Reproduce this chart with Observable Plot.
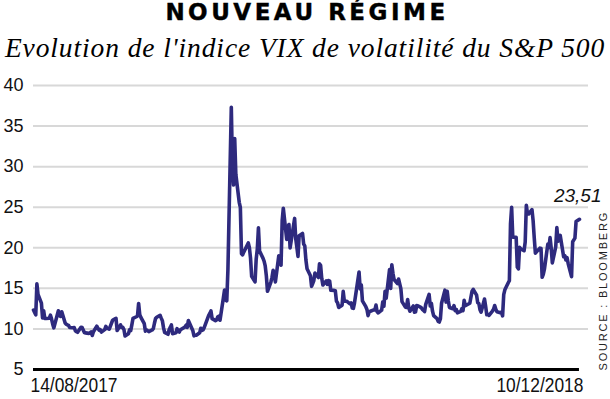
<!DOCTYPE html>
<html>
<head>
<meta charset="utf-8">
<script src="https://cdn.jsdelivr.net/npm/d3@7"></script>
<script src="https://cdn.jsdelivr.net/npm/@observablehq/plot@0.6"></script>
<style>
  html, body { margin: 0; padding: 0; background: #fff; }
  #wrap { position: relative; width: 610px; height: 399px; overflow: hidden; }
  #title { position: absolute; left: 2px; top: 1px; width: 610px; text-align: center;
    font-family: "DejaVu Sans", "Liberation Sans", Arial, sans-serif; font-weight: bold; font-size: 23px; line-height: 23px;
    letter-spacing: 3.5px; color: #000; -webkit-text-stroke: 0.4px #000; white-space: nowrap; }
  #subtitle { position: absolute; left: 0; top: 34px; width: 610px; text-align: center;
    font-family: "Liberation Serif", "Times New Roman", serif; font-style: italic; font-size: 27.5px; line-height: 27px;
    letter-spacing: 0.9px; color: #000; white-space: nowrap; }
  #chart { position: absolute; left: 0; top: 70px; }
</style>
</head>
<body>
<div id="wrap">
  <div id="title">NOUVEAU RÉGIME</div>
  <div id="subtitle">Evolution de l'indice VIX de volatilité du S&amp;P 500</div>
  <div id="chart"></div>
</div>
<script>
// Daily closes of the VIX index
const dates2017 = [
"2017-08-14","2017-08-15","2017-08-16","2017-08-17","2017-08-18","2017-08-21","2017-08-22","2017-08-23","2017-08-24","2017-08-25",
"2017-08-28","2017-08-29","2017-08-30","2017-08-31","2017-09-01","2017-09-05","2017-09-06","2017-09-07","2017-09-08","2017-09-11",
"2017-09-12","2017-09-13","2017-09-14","2017-09-15","2017-09-18","2017-09-19","2017-09-20","2017-09-21","2017-09-22","2017-09-25",
"2017-09-26","2017-09-27","2017-09-28","2017-09-29","2017-10-02","2017-10-03","2017-10-04","2017-10-05","2017-10-06","2017-10-09",
"2017-10-10","2017-10-11","2017-10-12","2017-10-13","2017-10-16","2017-10-17","2017-10-18","2017-10-19","2017-10-20","2017-10-23",
"2017-10-24","2017-10-25","2017-10-26","2017-10-27","2017-10-30","2017-10-31","2017-11-01","2017-11-02","2017-11-03","2017-11-06",
"2017-11-07","2017-11-08","2017-11-09","2017-11-10","2017-11-13","2017-11-14","2017-11-15","2017-11-16","2017-11-17","2017-11-20",
"2017-11-21","2017-11-22","2017-11-24","2017-11-27","2017-11-28","2017-11-29","2017-11-30","2017-12-01","2017-12-04","2017-12-05",
"2017-12-06","2017-12-07","2017-12-08","2017-12-11","2017-12-12","2017-12-13","2017-12-14","2017-12-15","2017-12-18","2017-12-19",
"2017-12-20","2017-12-21","2017-12-22","2017-12-26","2017-12-27","2017-12-28","2017-12-29"];
const vix2017 = [
12.33,12.04,11.74,15.55,14.26,13.19,11.35,12.25,11.28,11.28,
11.32,11.70,11.22,10.59,10.13,12.23,11.63,11.55,12.12,10.73,
10.58,10.50,10.44,10.17,10.15,10.18,9.78,9.67,9.59,10.21,
10.17,9.87,9.55,9.51,9.45,9.51,9.63,9.19,9.65,10.33,
10.08,9.85,9.91,9.61,9.91,10.31,10.06,10.05,9.97,11.07,
11.16,11.23,11.30,9.80,10.50,10.18,10.20,9.93,9.14,9.40,
9.89,9.78,10.50,11.29,11.50,11.59,13.13,11.76,11.43,10.65,
9.73,9.88,9.67,9.87,10.03,10.70,11.28,11.43,11.68,11.33,
11.02,10.16,9.58,9.34,9.92,10.18,10.49,9.42,9.53,10.03,
9.72,9.62,9.90,10.25,10.47,10.18,11.04];

const datesH1 = [
"2018-01-02","2018-01-03","2018-01-04","2018-01-05","2018-01-08","2018-01-09","2018-01-10","2018-01-11","2018-01-12","2018-01-16",
"2018-01-17","2018-01-18","2018-01-19","2018-01-22","2018-01-23","2018-01-24","2018-01-25","2018-01-26","2018-01-29","2018-01-30",
"2018-01-31","2018-02-01","2018-02-02","2018-02-05","2018-02-06","2018-02-07","2018-02-08","2018-02-09","2018-02-12","2018-02-13",
"2018-02-14","2018-02-15","2018-02-16","2018-02-20","2018-02-21","2018-02-22","2018-02-23","2018-02-26","2018-02-27","2018-02-28",
"2018-03-01","2018-03-02","2018-03-05","2018-03-06","2018-03-07","2018-03-08","2018-03-09","2018-03-12","2018-03-13","2018-03-14",
"2018-03-15","2018-03-16","2018-03-19","2018-03-20","2018-03-21","2018-03-22","2018-03-23","2018-03-26","2018-03-27","2018-03-28",
"2018-03-29","2018-04-02","2018-04-03","2018-04-04","2018-04-05","2018-04-06","2018-04-09","2018-04-10","2018-04-11","2018-04-12",
"2018-04-13","2018-04-16","2018-04-17","2018-04-18","2018-04-19","2018-04-20","2018-04-23","2018-04-24","2018-04-25","2018-04-26",
"2018-04-27","2018-04-30","2018-05-01","2018-05-02","2018-05-03","2018-05-04","2018-05-07","2018-05-08","2018-05-09","2018-05-10",
"2018-05-11","2018-05-14","2018-05-15","2018-05-16","2018-05-17","2018-05-18","2018-05-21","2018-05-22","2018-05-23","2018-05-24",
"2018-05-25","2018-05-29","2018-05-30","2018-05-31","2018-06-01","2018-06-04","2018-06-05","2018-06-06","2018-06-07","2018-06-08",
"2018-06-11","2018-06-12","2018-06-13","2018-06-14","2018-06-15","2018-06-18","2018-06-19","2018-06-20","2018-06-21","2018-06-22",
"2018-06-25","2018-06-26","2018-06-27","2018-06-28","2018-06-29"];
const vixH1 = [
9.77,9.15,9.22,9.22,9.52,10.08,9.82,9.88,10.16,11.66,
11.91,12.22,11.27,11.03,11.10,11.47,11.58,11.08,13.84,14.79,
13.54,13.47,17.31,37.32,29.98,27.73,33.46,29.06,25.61,24.97,
19.26,19.13,19.46,20.60,20.02,18.72,16.49,15.80,18.59,19.85,
22.47,19.59,18.73,18.36,17.76,16.54,14.64,15.78,16.35,17.23,
16.59,15.80,19.02,18.20,17.86,23.34,24.87,21.03,22.50,22.87,
19.97,23.62,21.10,20.06,18.94,21.49,21.77,20.47,20.24,18.49,
17.41,16.56,15.25,15.60,15.96,16.88,16.34,18.02,17.84,16.24,
15.41,15.93,15.49,15.97,15.90,14.77,14.75,14.71,13.42,13.23,
12.65,12.93,14.63,13.42,13.43,13.42,13.08,13.22,12.58,12.53,
13.22,17.02,14.94,15.43,13.46,12.74,12.40,11.64,12.13,12.18,
12.35,12.34,12.94,12.12,11.98,12.31,13.35,12.79,14.64,13.77,
17.33,14.99,17.91,16.85,16.09];

const datesH2 = [
"2018-07-02","2018-07-03","2018-07-05","2018-07-06","2018-07-09","2018-07-10","2018-07-11","2018-07-12","2018-07-13","2018-07-16",
"2018-07-17","2018-07-18","2018-07-19","2018-07-20","2018-07-23","2018-07-24","2018-07-25","2018-07-26","2018-07-27","2018-07-30",
"2018-07-31","2018-08-01","2018-08-02","2018-08-03","2018-08-06","2018-08-07","2018-08-08","2018-08-09","2018-08-10","2018-08-13",
"2018-08-14","2018-08-15","2018-08-16","2018-08-17","2018-08-20","2018-08-21","2018-08-22","2018-08-23","2018-08-24","2018-08-27",
"2018-08-28","2018-08-29","2018-08-30","2018-08-31","2018-09-04","2018-09-05","2018-09-06","2018-09-07","2018-09-10","2018-09-11",
"2018-09-12","2018-09-13","2018-09-14","2018-09-17","2018-09-18","2018-09-19","2018-09-20","2018-09-21","2018-09-24","2018-09-25",
"2018-09-26","2018-09-27","2018-09-28","2018-10-01","2018-10-02","2018-10-03","2018-10-04","2018-10-05","2018-10-08","2018-10-09",
"2018-10-10","2018-10-11","2018-10-12","2018-10-15","2018-10-16","2018-10-17","2018-10-18","2018-10-19","2018-10-22","2018-10-23",
"2018-10-24","2018-10-25","2018-10-26","2018-10-29","2018-10-30","2018-10-31","2018-11-01","2018-11-02","2018-11-05","2018-11-06",
"2018-11-07","2018-11-08","2018-11-09","2018-11-12","2018-11-13","2018-11-14","2018-11-15","2018-11-16","2018-11-19","2018-11-20",
"2018-11-21","2018-11-23","2018-11-26","2018-11-27","2018-11-28","2018-11-29","2018-11-30","2018-12-03","2018-12-04","2018-12-06",
"2018-12-07","2018-12-10"];
const vixH2 = [
15.60,16.14,14.97,13.37,12.69,12.64,13.63,12.58,12.18,12.83,
12.06,12.10,12.87,12.86,12.62,12.41,12.29,12.14,13.03,14.26,
12.83,13.15,12.19,11.64,11.27,10.93,10.85,11.27,13.16,14.78,
13.31,14.64,13.45,12.64,12.49,12.86,12.25,12.41,11.99,12.16,
12.50,12.25,13.53,12.86,13.16,13.91,14.65,14.88,14.16,13.22,
13.14,12.37,12.07,13.68,12.79,11.75,11.80,11.68,12.20,12.42,
12.89,12.41,12.12,12.00,12.05,11.61,14.22,14.82,15.69,15.95,
22.96,24.98,21.31,21.30,17.62,17.40,20.06,19.89,19.64,20.71,
25.23,24.22,24.16,24.70,23.35,21.23,19.34,19.51,19.96,19.91,
16.36,16.72,17.36,20.45,20.02,21.25,19.98,18.14,20.10,22.48,
20.80,21.52,18.90,19.02,18.49,18.79,18.07,16.44,20.74,21.19,
23.23,23.51];

const yTicks = [5, 10, 15, 20, 25, 30, 35, 40];
const gridTicks = [10, 15, 20, 25, 30, 35, 40];
const firstDate = "2017-08-14";
const lastDate = "2018-12-10";
const lastValueLabel = "23,51";
const sourceText = "SOURCE : BLOOMBERG";

const allDates = [...dates2017, ...datesH1, ...datesH2];
const allVix = [...vix2017, ...vixH1, ...vixH2];
const data = allDates.map((d, i) => ({date: new Date(d), vix: allVix[i]}));
const last = data[data.length - 1];
const start = new Date(firstDate);
const end = new Date(lastDate);
// extend the x domain a little so the grid runs past the end of the line
const domainEnd = new Date(end.getTime() + 8 * 864e5);

const fmt = d3.utcFormat("%d/%m/%Y");
const sans = "'Liberation Sans', Arial, sans-serif";

const chart = Plot.plot({
  width: 610,
  height: 329,
  marginTop: 15,
  marginBottom: 30,
  marginLeft: 33,
  marginRight: 22,
  style: {fontFamily: sans, color: "#111", background: "transparent", overflow: "visible"},
  x: {type: "utc", domain: [start, domainEnd]},
  y: {domain: [5, 40]},
  marks: [
    Plot.ruleY(gridTicks, {stroke: "#d8d8d8", strokeWidth: 2}),
    Plot.ruleY([5], {x1: start, x2: end, stroke: "#000", strokeWidth: 3}),
    Plot.axisY(yTicks, {tickSize: 0, tickPadding: 10, fontSize: 18, label: null, fill: "#111"}),
    Plot.axisX([start], {tickSize: 0, tickPadding: 8, tickFormat: fmt, textAnchor: "start", dx: -3,
      fontSize: 20, label: null, fill: "#111"}),
    Plot.axisX([end], {tickSize: 0, tickPadding: 8, tickFormat: fmt, textAnchor: "end", dx: 4,
      fontSize: 20, label: null, fill: "#111"}),
    Plot.line(data, {x: "date", y: "vix", stroke: "#2e2a7e", strokeWidth: 3.6, strokeLinejoin: "round"}),
    Plot.text([last], {x: "date", y: "vix", text: () => lastValueLabel, textAnchor: "end", lineAnchor: "bottom",
      dx: 22, dy: -17, fontSize: 19, fontStyle: "italic", fill: "#111"}),
    Plot.text([sourceText], {frameAnchor: "bottom-right", text: d => d, rotate: -90, textAnchor: "start",
      lineAnchor: "middle", dx: 15, dy: 1, fontSize: 11, fill: "#222"})
  ]
});

// condense the date labels (narrow typeface look) and space the source credit
d3.select(chart).selectAll("text").each(function() {
  const t = this.textContent;
  if (t === fmt(start) || t === fmt(end)) {
    d3.select(this).attr("textLength", 87).attr("lengthAdjust", "spacingAndGlyphs");
  } else if (t === sourceText) {
    d3.select(this).style("letter-spacing", "1.8px");
  }
});
document.getElementById("chart").appendChild(chart);
</script>
</body>
</html>
